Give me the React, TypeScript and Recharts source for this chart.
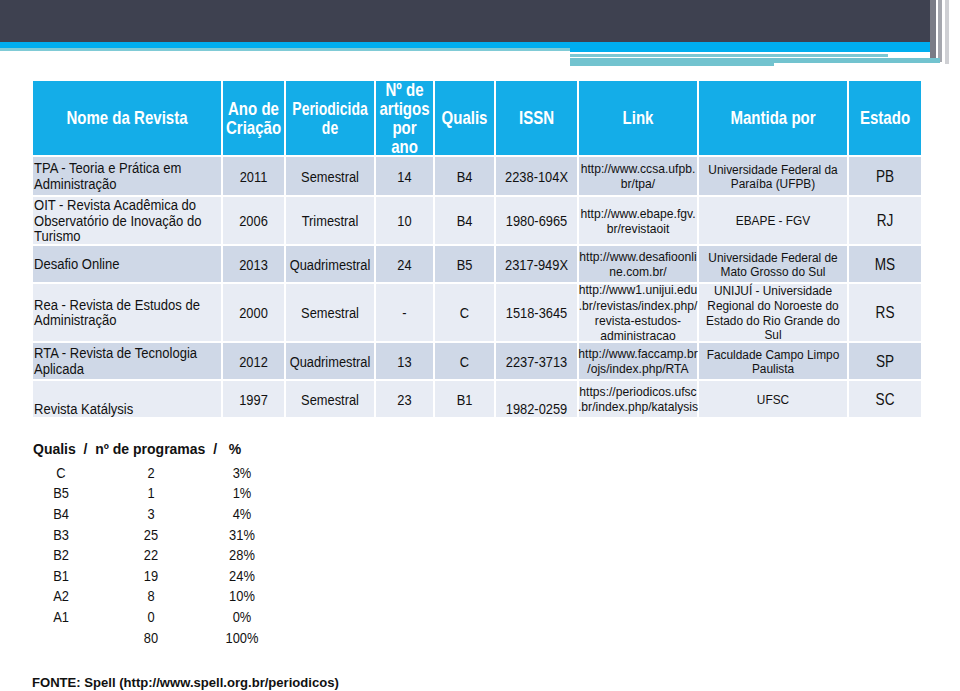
import { ScatterChart, Scatter, XAxis, YAxis, ReferenceArea } from "recharts";

// table content
const headerLabels = ["Nome da Revista", "Ano de\nCriação", "Periodicida\nde", "Nº de\nartigos\npor\nano", "Qualis", "ISSN", "Link", "Mantida por", "Estado"];
const revistas = [
  "TPA - Teoria e Prática em\nAdministração",
  "OIT - Revista Acadêmica do\nObservatório de Inovação do\nTurismo",
  "Desafio Online",
  "Rea - Revista de Estudos de\nAdministração",
  "RTA - Revista de Tecnologia\nAplicada",
  "Revista Katálysis",
];
const anosCriacao = ["2011", "2006", "2013", "2000", "2012", "1997"];
const periodicidades = ["Semestral", "Trimestral", "Quadrimestral", "Semestral", "Quadrimestral", "Semestral"];
const artigosPorAno = ["14", "10", "24", "-", "13", "23"];
const qualisRevista = ["B4", "B4", "B5", "C", "C", "B1"];
const issns = ["2238-104X", "1980-6965", "2317-949X", "1518-3645", "2237-3713", "1982-0259"];
const links = [
  "http://www.ccsa.ufpb.\nbr/tpa/",
  "http://www.ebape.fgv.\nbr/revistaoit",
  "http://www.desafioonli\nne.com.br/",
  "http://www1.unijui.edu\n.br/revistas/index.php/\nrevista-estudos-\nadministracao",
  "http://www.faccamp.br\n/ojs/index.php/RTA",
  "https://periodicos.ufsc\n.br/index.php/katalysis",
];
const mantidaPor = [
  "Universidade Federal da\nParaíba (UFPB)",
  "EBAPE - FGV",
  "Universidade Federal de\nMato Grosso do Sul",
  "UNIJUÍ - Universidade\nRegional do Noroeste do\nEstado do Rio Grande do\nSul",
  "Faculdade Campo Limpo\nPaulista",
  "UFSC",
];
const estados = ["PB", "RJ", "MS", "RS", "SP", "SC"];

// qualis summary
const qualisNiveis = ["C", "B5", "B4", "B3", "B2", "B1", "A2", "A1", ""];
const numProgramas = ["2", "1", "3", "25", "22", "19", "8", "0", "80"];
const percentuais = ["3%", "1%", "4%", "31%", "28%", "24%", "10%", "0%", "100%"];

// layout
const colEdges = [32, 222, 285, 375, 434, 495, 578, 698, 848, 922];
const rowEdges = [80, 156, 196, 245, 283, 342, 380, 418];
const colFont = [14.5, 15.5, 15.5, 15.5, 15.5, 15.5, 13.2, 13.5, 16];
const colSx = [0.9, 0.83, 0.83, 0.83, 0.83, 0.83, 0.92, 0.88, 0.85];
const colLh = [15.5, 15.5, 15.5, 15.5, 15.5, 15.5, 15.3, 14.7, 15.5];
const FONT = "'Liberation Sans', Arial, sans-serif";

const columns = [revistas, anosCriacao, periodicidades, artigosPorAno, qualisRevista, issns, links, mantidaPor, estados];

const tableCells: any[] = [];
headerLabels.forEach((label, c) => {
  const w = colEdges[c + 1] - colEdges[c];
  const h = rowEdges[1] - rowEdges[0];
  tableCells.push({
    x: colEdges[c] + w / 2, y: rowEdges[0] + h / 2, w, h, text: label,
    fill: "#14ade8", color: "#ffffff", bold: true, size: 17.5, sx: c === 2 ? 0.8 : 0.86, lh: 19,
    align: "middle", valign: "middle",
  });
});
columns.forEach((col, c) => {
  col.forEach((text, r) => {
    const w = colEdges[c + 1] - colEdges[c];
    const h = rowEdges[r + 2] - rowEdges[r + 1];
    const bottom = r === 5 && (c === 0 || c === 5);
    tableCells.push({
      x: colEdges[c] + w / 2, y: rowEdges[r + 1] + h / 2, w, h, text,
      fill: r % 2 === 0 ? "#cfd8e7" : "#e8ecf4", color: "#111111", bold: false,
      size: colFont[c], sx: colSx[c], lh: colLh[c],
      align: c === 0 ? "start" : "middle", valign: bottom ? "bottom" : "middle",
    });
  });
});

const summaryCols = [qualisNiveis, numProgramas, percentuais];
const summaryX = [61, 151, 242];
const summaryCells: any[] = [];
summaryCols.forEach((col, c) => {
  col.forEach((text, r) => {
    summaryCells.push({ x: summaryX[c], y: 473 + r * 20.6, text });
  });
});

const captions = [
  { x: 33, y: 449, text: "Qualis  /  nº de programas  /   %", size: 14, sx: 1 },
  { x: 32, y: 682, text: "FONTE: Spell (http://www.spell.org.br/periodicos)", size: 13.5, sx: 0.97 },
];

const renderCell = (props: any) => {
  const { cx, cy, payload: p } = props;
  const left = cx - p.w / 2;
  const top = cy - p.h / 2;
  const lines = p.text.split("\n");
  const n = lines.length;
  const tx = p.align === "start" ? left + 2 : cx;
  const ty = p.valign === "bottom" ? top + p.h - 4 - (n - 1) * p.lh : cy - ((n - 1) * p.lh) / 2 + 0.36 * p.size;
  return (
    <g>
      <rect x={left + 1} y={top + 1} width={p.w - 2} height={p.h - 2} fill={p.fill} />
      <text
        transform={`translate(${tx},${ty}) scale(${p.sx},1)`}
        textAnchor={p.align}
        fontSize={p.size}
        fontFamily={FONT}
        fontWeight={p.bold ? "bold" : "normal"}
        fill={p.color}
      >
        {lines.map((l: string, i: number) => (
          <tspan key={i} x={0} y={i * p.lh}>{l}</tspan>
        ))}
      </text>
    </g>
  );
};

const renderSummary = (props: any) => {
  const { cx, cy, payload } = props;
  return (
    <text transform={`translate(${cx},${cy + 4.8}) scale(0.92,1)`} textAnchor="middle" fontSize={14} fontFamily={FONT} fill="#111">
      {payload.text}
    </text>
  );
};

const renderCaption = (props: any) => {
  const { cx, cy, payload } = props;
  return (
    <text transform={`translate(${cx},${cy + 5}) scale(${payload.sx},1)`} fontSize={payload.size} fontFamily={FONT} fontWeight="bold" fill="#111" style={{ whiteSpace: "pre" }}>
      {payload.text}
    </text>
  );
};

export default function App() {
  return (
    <div style={{ width: 960, height: 691, background: "#fff" }}>
      <style>{"body{margin:0}"}</style>
      <ScatterChart width={960} height={691} margin={{ top: 0, right: 0, bottom: 0, left: 0 }}>
        <XAxis type="number" dataKey="x" domain={[0, 960]} hide />
        <YAxis type="number" dataKey="y" domain={[0, 691]} reversed hide />
        {/* slide banner */}
        <ReferenceArea x1={0} x2={930} y1={0} y2={42} fill="#3e4150" fillOpacity={1} stroke="none" />
        <ReferenceArea x1={930} x2={936} y1={0} y2={60} fill="#7a7c86" fillOpacity={1} stroke="none" />
        <ReferenceArea x1={938} x2={942} y1={0} y2={62} fill="#a5a7ae" fillOpacity={1} stroke="none" />
        <ReferenceArea x1={945} x2={949} y1={0} y2={64} fill="#cfd0d4" fillOpacity={1} stroke="none" />
        <ReferenceArea x1={0} x2={930} y1={42} y2={48} fill="#00aeef" fillOpacity={1} stroke="none" />
        <ReferenceArea x1={570} x2={930} y1={48} y2={52} fill="#00aeef" fillOpacity={1} stroke="none" />
        <ReferenceArea x1={0} x2={570} y1={48} y2={51} fill="#80cbd6" fillOpacity={1} stroke="none" />
        <ReferenceArea x1={570} x2={888} y1={54} y2={57} fill="#7cc8d4" fillOpacity={1} stroke="none" />
        <ReferenceArea x1={570} x2={940} y1={58} y2={63} fill="#72c3cf" fillOpacity={1} stroke="none" />
        <ReferenceArea x1={570} x2={774} y1={63} y2={66} fill="#72c3cf" fillOpacity={1} stroke="none" />
        <Scatter data={tableCells} shape={renderCell} isAnimationActive={false} />
        <Scatter data={summaryCells} shape={renderSummary} isAnimationActive={false} />
        <Scatter data={captions} shape={renderCaption} isAnimationActive={false} />
      </ScatterChart>
    </div>
  );
}
